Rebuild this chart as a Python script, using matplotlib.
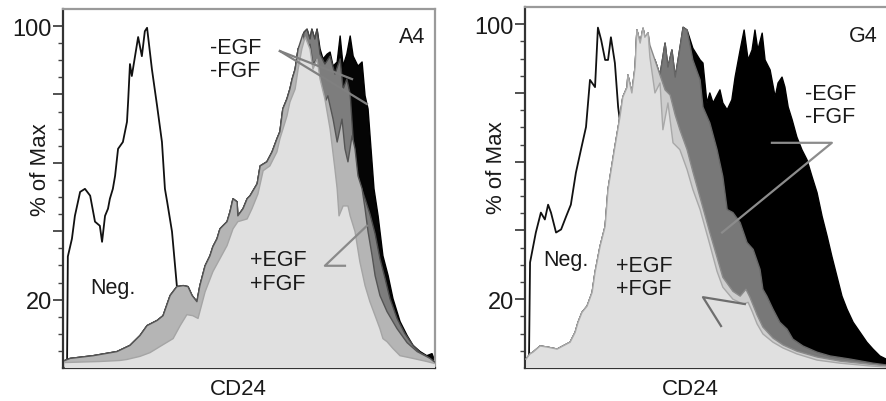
import matplotlib
matplotlib.use("Agg")
import matplotlib.pyplot as plt

plt.rcParams['font.family'] = ['Liberation Sans', 'DejaVu Sans']

#----------------------------# Panel A4 ----------------------------
# x = CD24 channel as % of the axis range, y = % of Max
a4_neg_x = [1.1, 1.3, 2.4, 3.2, 4.6, 5.9, 7.3, 8.6, 9.9, 10.5, 11.3, 12.1, 12.6, 13.4, 14.0, 14.8, 16.1,
            17.2, 17.5, 18.0, 18.5, 20.2, 21.2, 22.0, 22.6, 23.9, 25.3, 26.6, 27.4, 28.0, 29.3, 30.6,
            31.7, 34.1, 38.2, 44.9, 100]
a4_neg_y = [2.2, 32.6, 37.8, 44.5, 51.5, 52.4, 50.4, 42.8, 41.6, 36.9, 44.5, 46.6, 49.5, 52.4, 56.2, 64.1,
            66.1, 72.0, 77.8, 88.9, 85.4, 96.8, 91.2, 98.5, 99.5, 87.4, 76.6, 66.1, 52.4, 48.6, 39.9,
            24.1, 20.3, 9.2, 2.8, 0.7, 0.4]

# rising edge shared by the -EGF/-FGF samples and the darker +EGF/+FGF sample
a4_rise_x = [0.5, 1.9, 8.1, 14.5, 18.0, 20.7, 22.6, 25.3, 26.9, 28.8, 30.6, 32.3, 33.6, 34.7, 36.0, 36.8,
             38.2, 39.5, 40.3, 41.4, 42.2, 43.0, 44.1, 44.9, 45.7, 46.8, 47.0, 48.4, 49.5, 50.3, 52.2,
             53.0, 54.8, 56.2, 57.5, 58.3, 59.1, 60.2, 61.0, 61.6, 62.4, 63.2]
a4_rise_y = [2.2, 2.8, 3.6, 4.8, 6.6, 9.5, 12.4, 13.9, 15.3, 21.2, 23.8, 24.1, 23.8, 21.2, 19.4, 24.1,
             29.9, 32.8, 35.5, 37.8, 40.7, 41.6, 42.8, 45.7, 49.5, 48.6, 44.5, 46.6, 49.5, 50.4, 53.9,
             59.1, 60.3, 63.2, 67.0, 69.1, 75.8, 78.7, 81.6, 84.5, 87.4, 93.3]

a4_black_x = [64.2, 64.8, 65.6, 66.4, 66.9, 67.7, 68.3, 69.1, 69.9, 71.0, 71.8, 72.6, 73.7, 74.5, 75.3,
              76.3, 77.2, 78.0, 79.3, 80.4, 81.2, 82.0, 82.8, 83.6, 84.7, 86.0, 87.4, 88.7, 90.6, 92.5,
              94.1, 96.0, 97.8, 99.2, 100]
a4_black_y = [95.3, 98.2, 99.1, 96.2, 99.1, 96.2, 99.1, 93.3, 90.4, 91.8, 92.4, 88.3, 89.5, 97.1, 88.3,
              91.8, 97.1, 91.2, 88.3, 89.5, 79.6, 75.8, 64.1, 52.4, 44.5, 32.8, 27.0, 20.3, 13.6, 9.5,
              6.6, 4.8, 3.6, 4.2, 1.9]

a4_dark_x = [64.2, 64.8, 65.6, 66.4, 66.9, 67.7, 68.3, 69.1, 70.4, 71.8, 73.1, 74.5, 75.3, 76.3, 77.2,
             78.0, 78.8, 79.8, 81.2, 82.5, 83.9, 85.2, 86.6, 87.9, 89.8, 91.9, 94.1, 96.0, 97.8, 100]
a4_dark_y = [95.3, 98.2, 99.1, 96.2, 99.1, 96.2, 99.1, 91.8, 88.9, 91.2, 86.0, 90.4, 81.6, 84.5, 80.1,
             67.0, 58.2, 53.9, 49.5, 45.1, 39.3, 32.0, 26.1, 20.3, 14.5, 10.1, 6.6, 4.5, 3.4, 1.6]

a4_mid_x = [64.5, 65.6, 66.4, 67.2, 68.3, 69.1, 69.9, 71.2, 72.6, 73.7, 75.0, 75.8, 76.6, 77.7, 78.5,
            79.3, 80.4, 81.2, 82.0, 83.1, 83.9, 85.2, 87.1, 89.8, 92.5, 95.2, 98.7, 100]
a4_mid_y = [97.7, 93.3, 94.7, 88.9, 90.4, 81.6, 76.6, 79.6, 72.8, 66.1, 72.8, 64.1, 60.3, 67.9, 64.1,
            56.2, 52.4, 46.6, 39.9, 32.8, 27.0, 21.2, 16.5, 11.5, 7.4, 4.8, 2.8, 1.6]

a4_light_x = [0.5, 9.9, 15.3, 17.2, 20.7, 23.4, 26.1, 29.6, 31.5, 33.3, 34.9, 36.3, 38.2, 40.3, 42.2,
              44.1, 45.7, 47.0, 49.5, 50.8, 52.4, 53.8, 55.6, 57.5, 58.3, 60.2, 61.0, 62.4, 63.2, 64.2,
              65.1, 66.4, 67.2, 68.3, 69.1, 70.4, 71.8, 73.1, 73.7, 74.2, 75.3, 76.6, 77.2, 78.5, 79.8,
              81.2, 82.5, 83.9, 85.2, 86.0, 87.1, 88.7, 90.6, 94.1, 97.8, 100]
a4_light_y = [1.6, 1.9, 2.2, 2.5, 3.4, 4.5, 6.3, 8.6, 12.4, 15.6, 15.3, 14.5, 22.3, 28.2, 32.0,
              35.8, 40.7, 42.8, 43.6, 46.6, 50.9, 57.7, 59.1, 63.2, 67.0, 73.7, 77.8, 81.6, 87.4, 93.3,
              96.8, 93.3, 87.4, 90.4, 84.5, 78.7, 69.9, 58.2, 52.4, 44.5, 47.4, 47.4, 44.5, 39.9, 31.1,
              24.1, 19.4, 15.3, 11.5, 8.6, 7.7, 5.7, 3.6, 2.8, 1.9, 1.3]

#----------------------------# Panel G4 ----------------------------
g4_neg_x = [1.1, 1.4, 3.0, 4.4, 5.5, 6.4, 7.2, 8.6, 10.0, 11.4, 12.7, 14.1, 15.5, 16.9, 18.0, 19.4, 20.2,
            21.1, 22.2, 23.0, 23.8, 24.9, 25.8, 26.6, 28.0, 29.6, 31.9, 34.6, 38.8, 48.5, 100]
g4_neg_y = [2.0, 30.7, 39.4, 45.2, 43.2, 47.5, 45.2, 39.4, 40.3, 44.1, 47.5, 56.8, 63.5, 70.1, 83.8, 81.7,
            99.0, 95.4, 89.6, 89.6, 96.2, 88.7, 75.9, 69.3, 57.7, 40.3, 20.0, 8.4, 2.0, 0.3, 0.3]

# rising edge shared by all four samples
g4_rise_x = [0.3, 1.4, 2.2, 4.2, 6.1, 8.9, 10.5, 12.5, 13.9, 14.7, 15.8, 17.2, 18.6, 19.4, 20.8, 22.2,
             23.0, 24.9, 26.3, 27.1, 28.3, 28.5, 29.6, 30.5, 31.0, 31.9, 32.7, 33.2, 34.1]
g4_rise_y = [2.6, 4.1, 4.6, 6.4, 6.1, 5.5, 6.4, 7.5, 10.4, 13.3, 16.2, 18.0, 22.0, 27.8, 35.4, 41.2,
             51.9, 64.3, 73.0, 78.8, 81.7, 85.2, 80.0, 87.5, 98.3, 94.5, 98.8, 96.2, 97.4]

g4_black_x = [34.6, 36.0, 37.4, 38.8, 39.6, 40.7, 41.6, 42.4, 43.8, 44.9, 46.5, 48.5, 49.3, 50.4, 51.2,
              52.1, 54.0, 54.8, 56.0, 57.3, 58.2, 59.6, 60.7, 61.8, 62.9, 63.7, 64.5, 65.7, 66.5, 67.9,
              69.3, 70.1, 71.2, 72.0, 72.9, 74.0, 75.3, 76.7, 78.1, 79.5, 80.9, 82.3, 83.7, 85.0, 86.4,
              87.8, 89.2, 90.9, 92.8, 94.7, 96.4, 98.3, 100]
g4_black_y = [91.0, 89.6, 85.2, 94.5, 87.5, 92.5, 84.6, 89.6, 99.1, 98.3, 93.0, 89.6, 88.7, 77.1, 80.0,
              77.1, 80.9, 77.1, 75.1, 78.0, 84.6, 92.5, 98.3, 89.6, 92.5, 98.3, 92.5, 97.4, 89.6, 86.7,
              78.8, 82.9, 84.6, 81.7, 75.9, 72.2, 67.2, 63.5, 60.6, 55.7, 51.0, 44.1, 38.3, 32.5, 26.7,
              20.9, 17.1, 13.3, 10.4, 7.5, 5.5, 3.5, 2.6]

g4_dark_x = [34.6, 36.0, 37.4, 38.8, 39.6, 40.7, 41.6, 42.4, 43.8, 44.9, 46.5, 48.5, 49.3, 51.2, 53.2,
             54.8, 56.0, 57.6, 59.6, 61.5, 63.2, 65.1, 65.9, 67.0, 68.7, 70.6, 72.6, 74.2, 77.0, 80.9,
             84.5, 90.0, 96.4, 100]
g4_dark_y = [91.0, 89.6, 85.2, 94.5, 87.5, 92.5, 84.6, 89.6, 99.1, 98.3, 89.6, 83.8, 75.9, 71.3, 63.5,
             55.7, 46.1, 45.2, 42.3, 36.5, 34.5, 28.7, 22.9, 20.9, 17.1, 13.3, 11.3, 8.4, 6.4, 4.6,
             3.5, 2.6, 1.4, 0.9]

g4_mid_x = [34.6, 36.0, 37.4, 38.8, 40.2, 41.6, 42.9, 44.9, 46.5, 48.5, 51.2, 53.2, 54.8, 57.6, 59.6,
            61.2, 62.3, 64.3, 65.9, 68.7, 71.5, 75.3, 80.9, 87.3, 100]
g4_mid_y = [93.9, 89.6, 85.2, 80.9, 79.4, 73.6, 69.3, 63.5, 57.1, 49.6, 39.4, 32.2, 26.4, 22.3, 20.9,
            22.9, 20.6, 15.4, 11.9, 8.7, 6.7, 4.9, 3.2, 2.0, 0.6]

g4_light_x = [34.6, 36.0, 37.4, 38.2, 39.6, 41.0, 42.9, 44.9, 46.5, 48.5, 51.2, 53.2, 54.8, 57.6, 60.4,
              61.8, 62.9, 64.3, 65.9, 68.7, 71.5, 75.3, 80.9, 87.3, 95.6, 100]
g4_light_y = [90.4, 80.0, 82.9, 69.3, 77.1, 65.5, 63.5, 57.7, 51.9, 46.1, 35.9, 28.1, 23.5, 20.0, 18.6,
              19.1, 16.5, 12.8, 9.9, 7.5, 5.8, 4.1, 2.3, 1.4, 0.6, 0.3]


def draw_hist(ax, x, y, face, edge, lw, z):
    ax.fill_between(x, 0, y, facecolor=face, edgecolor='none', zorder=z)
    ax.plot(x, y, color=edge, lw=lw, zorder=z + 0.5)


def style_axes(ax, show_right=True):
    ax.set_xlim(0, 100)
    ax.set_ylim(0, 105)
    ax.set_xticks([])
    ax.set_yticks([20, 40, 60, 80, 100])
    ax.set_yticklabels(['20', '', '', '', '100'], fontsize=17, color='#1a1a1a')
    ax.set_yticks(range(5, 105, 5), minor=True)
    ax.tick_params(axis='y', which='major', length=7, width=1.2, color='#333333', pad=1)
    ax.tick_params(axis='y', which='minor', length=3.5, width=1.0, color='#444444')
    for s in ['left', 'bottom']:
        ax.spines[s].set_color('#333333')
        ax.spines[s].set_linewidth(1.6)
    for s in ['top', 'right']:
        ax.spines[s].set_color('#9a9a9a')
        ax.spines[s].set_linewidth(1.6)
    ax.spines['right'].set_visible(show_right)


fig = plt.figure(figsize=(8.86, 4.02), dpi=100)
ax1 = fig.add_axes([63 / 886, 33 / 402, 372 / 886, 359 / 402])
ax2 = fig.add_axes([525 / 886, 33 / 402, 361 / 886, 361 / 402])

# A4 panel
ax1.plot(a4_neg_x, a4_neg_y, color='#111111', lw=1.3, zorder=1)
draw_hist(ax1, a4_rise_x + a4_black_x, a4_rise_y + a4_black_y, '#050505', '#000000', 1.0, 2)
draw_hist(ax1, a4_rise_x + a4_dark_x, a4_rise_y + a4_dark_y, '#7d7d7d', '#4a4a4a', 1.0, 3)
draw_hist(ax1, a4_rise_x + a4_mid_x, a4_rise_y + a4_mid_y, '#b5b5b5', '#555555', 1.0, 4)
draw_hist(ax1, a4_light_x, a4_light_y, '#e0e0e0', '#a5a5a5', 1.0, 5)

ax1.plot([58.3, 77.7], [92.7, 84.5], color='#808080', lw=1.6, zorder=6)
ax1.plot([58.3, 81.7], [92.7, 77.2], color='#808080', lw=1.6, zorder=6)
ax1.plot([75.8, 70.4, 81.7], [29.9, 29.9, 41.6], color='#8a8a8a', lw=1.6, zorder=6)

ax1.text(39.5, 90.4, '-EGF\n-FGF', fontsize=15.5, ha='left', va='center', linespacing=1.15,
         color='#1a1a1a', zorder=7)
ax1.text(50.3, 28.2, '+EGF\n+FGF', fontsize=15.5, ha='left', va='center', linespacing=1.15,
         color='#1a1a1a', zorder=7)
ax1.text(7.3, 23.6, 'Neg.', fontsize=15.5, ha='left', va='center', color='#1a1a1a', zorder=7)
ax1.text(97.3, 97.1, 'A4', fontsize=15.5, ha='right', va='center', color='#1a1a1a', zorder=7)
style_axes(ax1)

# G4 panel
ax2.plot(g4_neg_x, g4_neg_y, color='#111111', lw=1.3, zorder=1)
draw_hist(ax2, g4_rise_x + g4_black_x, g4_rise_y + g4_black_y, '#000000', '#000000', 1.0, 2)
draw_hist(ax2, g4_rise_x + g4_dark_x, g4_rise_y + g4_dark_y, '#787878', '#666666', 1.0, 3)
draw_hist(ax2, g4_rise_x + g4_mid_x, g4_rise_y + g4_mid_y, '#cdcdcd', '#8a8a8a', 1.0, 4)
draw_hist(ax2, g4_rise_x + g4_light_x, g4_rise_y + g4_light_y, '#e0e0e0', '#a8a8a8', 1.0, 5)

ax2.plot([68.4, 85.0, 54.6], [65.5, 65.5, 39.4], color='#8c8c8c', lw=1.6, zorder=6)
ax2.plot([60.9, 49.3, 54.3], [18.6, 20.6, 12.2], color='#6e6e6e', lw=1.6, zorder=6)

ax2.text(77.6, 76.5, '-EGF\n-FGF', fontsize=15.5, ha='left', va='center', linespacing=1.15,
         color='#1a1a1a', zorder=7)
ax2.text(25.2, 26.5, '+EGF\n+FGF', fontsize=15.5, ha='left', va='center', linespacing=1.15,
         color='#1a1a1a', zorder=7)
ax2.text(5.0, 31.6, 'Neg.', fontsize=15.5, ha='left', va='center', color='#1a1a1a', zorder=7)
ax2.text(97.8, 96.8, 'G4', fontsize=15.5, ha='right', va='center', color='#1a1a1a', zorder=7)
style_axes(ax2, show_right=False)

# axis titles
fig.text(40 / 886, 1 - 170 / 402, '% of Max', rotation=90, fontsize=16, ha='center', va='center',
         color='#1a1a1a')
fig.text(496 / 886, 1 - 168 / 402, '% of Max', rotation=90, fontsize=16, ha='center', va='center',
         color='#1a1a1a')
fig.text(238.5 / 886, 1 - 390 / 402, 'CD24', fontsize=16, ha='center', va='center', color='#1a1a1a')
fig.text(690 / 886, 1 - 390 / 402, 'CD24', fontsize=16, ha='center', va='center', color='#1a1a1a')

fig.savefig("out.png", dpi=100)
